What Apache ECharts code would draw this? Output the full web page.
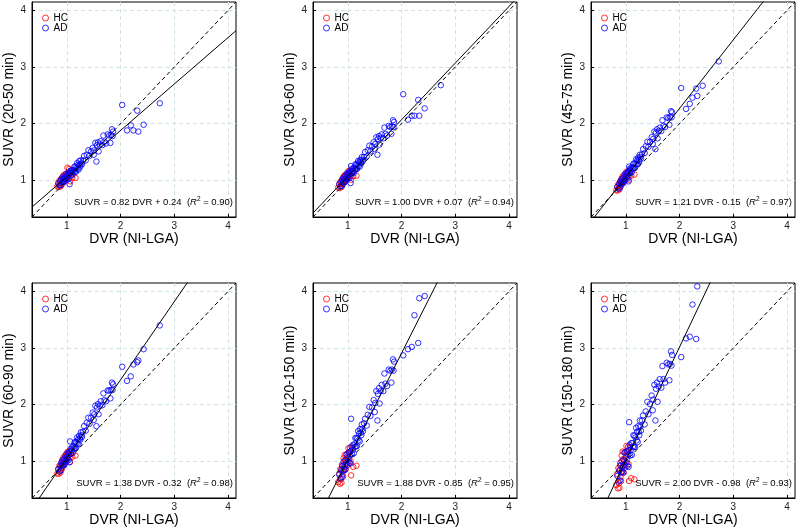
<!DOCTYPE html>
<html>
<head>
<meta charset="utf-8">
<script src="https://cdn.jsdelivr.net/npm/echarts@6/dist/echarts.min.js"></script>
<style>
  html, body { margin: 0; padding: 0; background: #fff; }
  #chart { width: 797px; height: 529px; }
</style>
</head>
<body>
<div id="chart"></div>
<script>
// DVR (NI-LGA), same subjects in every panel
var dvrHC = [0.82, 0.84, 0.85, 0.86, 0.87, 0.88, 0.88, 0.89, 0.90, 0.90, 0.91, 0.92, 0.93, 0.93, 0.94,
    0.95, 0.96, 0.97, 0.98, 0.99, 1.00, 1.01, 1.02, 1.03, 1.04, 1.05, 1.06, 1.08, 1.10, 1.16];
var dvrAD = [0.84, 0.86, 0.88, 0.89, 0.90, 0.91, 0.92, 0.93, 0.94, 0.95, 0.96, 0.97, 0.98, 0.99, 1.00,
    1.01, 1.02, 1.03, 1.04, 1.05, 1.05, 1.06, 1.07, 1.08, 1.09, 1.10, 1.11, 1.12, 1.13, 1.14,
    1.15, 1.16, 1.17, 1.18, 1.19, 1.20, 1.21, 1.22, 1.23, 1.24, 1.25, 1.26, 1.27, 1.28, 1.30,
    1.32, 1.35, 1.37, 1.40, 1.42, 1.45, 1.48, 1.50, 1.51, 1.53, 1.55, 1.56, 1.58, 1.59, 1.61,
    1.63, 1.66, 1.68, 1.70, 1.73, 1.76, 1.79, 1.81, 1.82, 1.84, 1.85, 1.86,
    2.03, 2.12, 2.19, 2.24, 2.31, 2.33, 2.43, 2.73];

// SUVR per time window
var suvr2050HC = [0.89, 0.95, 0.88, 0.99, 0.91, 0.89, 0.98, 1.02, 0.95, 1.01, 0.93, 1.06, 1.00, 0.99, 1.09,
    1.05, 0.99, 1.10, 1.05, 1.03, 1.11, 1.22, 1.07, 1.11, 1.20, 1.05, 0.98, 1.15, 1.04, 1.04];
var suvr2050AD = [0.94, 0.91, 0.99, 0.91, 1.02, 0.97, 1.05, 0.97, 1.02, 0.97, 1.06, 1.03, 1.11, 1.01, 1.08,
    1.04, 1.13, 1.02, 1.10, 0.93, 1.13, 1.16, 1.17, 1.09, 1.13, 1.18, 1.10, 1.18, 1.16, 1.24,
    1.15, 1.24, 1.15, 1.22, 1.30, 1.20, 1.27, 1.19, 1.34, 1.27, 1.24, 1.35, 1.30, 1.28, 1.35,
    1.43, 1.35, 1.45, 1.53, 1.43, 1.51, 1.57, 1.45, 1.53, 1.66, 1.33, 1.62, 1.67, 1.51, 1.63,
    1.69, 1.62, 1.79, 1.68, 1.65, 1.81, 1.79, 1.66, 1.80, 1.90, 1.78, 1.86,
    2.33, 1.88, 1.97, 1.88, 2.23, 1.86, 1.98, 2.36];

var suvr3060HC = [0.87, 0.93, 0.86, 0.97, 0.90, 0.88, 0.97, 1.01, 0.94, 1.00, 0.93, 1.06, 1.00, 0.99, 1.09,
    1.06, 0.99, 1.10, 1.06, 1.04, 1.12, 1.16, 1.08, 1.13, 1.17, 1.07, 1.01, 1.17, 1.07, 1.08];
var suvr3060AD = [0.93, 0.89, 0.98, 0.90, 1.02, 0.97, 1.05, 0.97, 1.02, 0.97, 1.07, 1.03, 1.12, 1.02, 1.09,
    1.06, 1.14, 1.04, 1.12, 0.95, 1.15, 1.25, 1.20, 1.12, 1.16, 1.21, 1.13, 1.22, 1.19, 1.28,
    1.19, 1.28, 1.20, 1.27, 1.34, 1.25, 1.32, 1.24, 1.36, 1.32, 1.30, 1.41, 1.36, 1.34, 1.41,
    1.50, 1.42, 1.53, 1.61, 1.51, 1.60, 1.67, 1.55, 1.64, 1.76, 1.45, 1.73, 1.78, 1.63, 1.75,
    1.81, 1.74, 1.93, 1.82, 1.79, 1.96, 1.94, 1.82, 1.95, 2.06, 1.94, 2.03,
    2.52, 2.07, 2.14, 2.14, 2.42, 2.14, 2.27, 2.68];

var suvr4575HC = [0.82, 0.89, 0.82, 0.93, 0.86, 0.84, 0.93, 0.98, 0.91, 0.97, 0.90, 1.03, 0.98, 0.96, 1.07,
    1.04, 0.97, 1.08, 1.05, 1.03, 1.11, 1.15, 1.07, 1.12, 1.16, 1.07, 1.01, 1.18, 1.08, 1.10];
var suvr4575AD = [0.88, 0.85, 0.94, 0.87, 0.98, 0.94, 1.02, 0.95, 0.99, 0.95, 1.05, 1.01, 1.11, 1.00, 1.08,
    1.05, 1.13, 1.03, 1.12, 0.98, 1.15, 1.24, 1.20, 1.12, 1.17, 1.22, 1.14, 1.23, 1.21, 1.29,
    1.21, 1.30, 1.22, 1.29, 1.37, 1.28, 1.35, 1.28, 1.40, 1.36, 1.34, 1.45, 1.41, 1.38, 1.46,
    1.55, 1.48, 1.60, 1.68, 1.59, 1.68, 1.76, 1.64, 1.73, 1.86, 1.55, 1.84, 1.90, 1.74, 1.87,
    1.93, 1.87, 2.06, 1.96, 1.94, 2.11, 2.10, 1.98, 2.12, 2.22, 2.11, 2.20,
    2.63, 2.26, 2.35, 2.46, 2.62, 2.49, 2.67, 3.10];

var suvr6090HC = [0.78, 0.86, 0.78, 0.92, 0.83, 0.80, 0.91, 0.97, 0.89, 0.96, 0.87, 1.03, 0.96, 0.95, 1.07,
    1.03, 0.96, 1.09, 1.04, 1.02, 1.11, 1.16, 1.08, 1.13, 1.18, 1.07, 0.99, 1.19, 1.08, 1.10];
var suvr6090AD = [0.86, 0.82, 0.92, 0.84, 0.98, 0.92, 1.02, 0.93, 0.98, 0.93, 1.05, 1.01, 1.12, 0.99, 1.08,
    1.04, 1.15, 1.02, 1.13, 0.98, 1.17, 1.35, 1.22, 1.13, 1.18, 1.25, 1.15, 1.26, 1.23, 1.33,
    1.23, 1.34, 1.24, 1.33, 1.42, 1.31, 1.39, 1.30, 1.45, 1.40, 1.38, 1.51, 1.46, 1.43, 1.52,
    1.62, 1.54, 1.68, 1.77, 1.66, 1.77, 1.86, 1.73, 1.83, 1.98, 1.62, 1.95, 2.01, 1.83, 1.98,
    2.06, 1.99, 2.20, 2.08, 2.06, 2.25, 2.25, 2.11, 2.26, 2.39, 2.26, 2.36,
    2.67, 2.42, 2.50, 2.71, 2.75, 2.78, 2.98, 3.40];

var suvr120150HC = [0.63, 0.78, 0.60, 0.86, 0.68, 0.62, 0.84, 0.94, 0.77, 0.91, 0.73, 1.05, 0.90, 0.86, 1.11,
    1.02, 0.86, 1.12, 1.02, 0.96, 1.14, 1.23, 1.04, 1.15, 1.24, 1.00, 0.75, 1.23, 0.90, 0.92];
var suvr120150AD = [0.76, 0.70, 0.85, 0.72, 0.92, 0.83, 0.99, 0.84, 0.93, 0.85, 1.02, 0.96, 1.12, 0.93, 1.07,
    1.00, 1.16, 0.97, 1.12, 0.96, 1.18, 1.75, 1.26, 1.12, 1.20, 1.29, 1.14, 1.30, 1.26, 1.41,
    1.26, 1.41, 1.27, 1.40, 1.53, 1.37, 1.49, 1.35, 1.57, 1.50, 1.46, 1.65, 1.57, 1.53, 1.67,
    1.75, 1.63, 1.82, 1.96, 1.80, 1.95, 2.08, 1.87, 2.03, 2.24, 1.72, 2.19, 2.29, 2.02, 2.24,
    2.35, 2.24, 2.55, 2.37, 2.33, 2.62, 2.60, 2.39, 2.62, 2.80, 2.60, 2.76,
    2.87, 2.98, 3.02, 3.58, 3.09, 3.88, 3.92, 4.40];

var suvr150180HC = [0.58, 0.77, 0.52, 0.88, 0.61, 0.53, 0.83, 0.97, 0.72, 0.92, 0.65, 1.10, 0.88, 0.83, 1.17,
    1.04, 0.80, 1.16, 1.01, 0.93, 1.17, 1.27, 1.03, 1.17, 1.25, 0.95, 0.65, 1.25, 0.70, 0.68];
var suvr150180AD = [0.74, 0.64, 0.84, 0.66, 0.93, 0.80, 1.00, 0.81, 0.91, 0.80, 1.02, 0.94, 1.15, 0.89, 1.07,
    0.98, 1.18, 0.92, 1.12, 0.90, 1.19, 1.69, 1.29, 1.10, 1.20, 1.32, 1.11, 1.32, 1.26, 1.46,
    1.25, 1.45, 1.25, 1.42, 1.59, 1.37, 1.52, 1.34, 1.62, 1.52, 1.46, 1.72, 1.61, 1.54, 1.72,
    1.81, 1.65, 1.88, 2.05, 1.83, 2.01, 2.16, 1.90, 2.09, 2.35, 1.72, 2.28, 2.39, 2.05, 2.32,
    2.45, 2.30, 2.68, 2.45, 2.39, 2.74, 2.71, 2.43, 2.72, 2.94, 2.69, 2.88,
    2.84, 3.17, 3.20, 3.77, 3.16, 4.09, 4.45, 4.80];

var yTitles = ['SUVR (20-50 min)', 'SUVR (30-60 min)', 'SUVR (45-75 min)',
    'SUVR (60-90 min)', 'SUVR (120-150 min)', 'SUVR (150-180 min)'];
var hcSets = [suvr2050HC, suvr3060HC, suvr4575HC, suvr6090HC, suvr120150HC, suvr150180HC];
var adSets = [suvr2050AD, suvr3060AD, suvr4575AD, suvr6090AD, suvr120150AD, suvr150180AD];
var slopes = [0.82, 1.00, 1.21, 1.38, 1.88, 2.00];
var intercepts = [0.24, 0.07, -0.15, -0.32, -0.85, -0.98];
var rSquared = ['0.90', '0.94', '0.97', '0.98', '0.95', '0.93'];

var AXIS_MIN = 0.35, AXIS_MAX = 4.15;
var FONT = '"Liberation Sans", Arial, Helvetica, sans-serif';
var RED = '#ff0000', BLUE = '#0000ff';

var colLeft = [32, 313, 591];
var rowTop = [2, 283];
var boxW = 204, boxH = 215;

function pairs(xs, ys) {
    var out = [];
    for (var i = 0; i < xs.length; i++) out.push([xs[i], ys[i]]);
    return out;
}

function makeAxis(p, name, nameGap, labelMargin) {
    return {
        gridIndex: p, type: 'value', min: AXIS_MIN, max: AXIS_MAX,
        name: name, nameLocation: 'middle', nameGap: nameGap,
        nameTextStyle: { fontFamily: FONT, fontSize: 14, color: '#000' },
        axisLine: { show: true, lineStyle: { color: '#000', width: 1 } },
        axisTick: { show: true, inside: true, length: 3, lineStyle: { color: '#000' } },
        axisLabel: { fontFamily: FONT, fontSize: 10, color: '#222', margin: labelMargin,
            showMinLabel: false, showMaxLabel: false },
        splitLine: { show: true, showMinLine: false, showMaxLine: false,
            lineStyle: { color: '#cfe3e6', type: [4, 3], width: 1 } }
    };
}

var grids = [], xAxes = [], yAxes = [], legends = [], seriesList = [], texts = [];

for (var p = 0; p < 6; p++) {
    var gLeft = colLeft[p % 3], gTop = rowTop[Math.floor(p / 3)];
    var a = slopes[p], b = intercepts[p];

    grids.push({
        left: gLeft, top: gTop, width: boxW, height: boxH,
        show: true, borderColor: '#000', borderWidth: 1
    });
    xAxes.push(makeAxis(p, 'DVR (NI-LGA)', 14, 4));
    yAxes.push(makeAxis(p, yTitles[p], 16, 6));

    legends.push({
        orient: 'vertical', left: gLeft + 5, top: gTop + 6,
        itemWidth: 6, itemHeight: 6, itemGap: 0,
        textStyle: { fontFamily: FONT, fontSize: 10, color: '#000' },
        data: [
            { name: 'HC', icon: 'circle', itemStyle: { color: 'transparent', borderColor: RED, borderWidth: 1 } },
            { name: 'AD', icon: 'circle', itemStyle: { color: 'transparent', borderColor: BLUE, borderWidth: 1 } }
        ]
    });

    seriesList.push({
        name: 'HC', type: 'scatter', xAxisIndex: p, yAxisIndex: p,
        symbol: 'circle', symbolSize: 5.5,
        itemStyle: { color: 'transparent', borderColor: RED, borderWidth: 1 },
        data: pairs(dvrHC, hcSets[p]), z: 2
    });
    seriesList.push({
        name: 'AD', type: 'scatter', xAxisIndex: p, yAxisIndex: p,
        symbol: 'circle', symbolSize: 5.5,
        itemStyle: { color: 'transparent', borderColor: BLUE, borderWidth: 1 },
        data: pairs(dvrAD, adSets[p]), z: 3
    });
    // line of identity
    seriesList.push({
        name: 'identity', type: 'line', xAxisIndex: p, yAxisIndex: p,
        symbol: 'none', silent: true, clip: true, z: 4,
        lineStyle: { color: '#000', width: 1, type: [4, 3] },
        data: [[AXIS_MIN, AXIS_MIN], [AXIS_MAX, AXIS_MAX]]
    });
    // fitted regression line
    seriesList.push({
        name: 'fit', type: 'line', xAxisIndex: p, yAxisIndex: p,
        symbol: 'none', silent: true, clip: true, z: 4,
        lineStyle: { color: '#000', width: 1 },
        data: [[AXIS_MIN, a * AXIS_MIN + b], [AXIS_MAX, a * AXIS_MAX + b]]
    });

    var eq = 'SUVR = ' + a.toFixed(2) + ' DVR ' + (b < 0 ? '- ' : '+ ') + Math.abs(b).toFixed(2) +
        '  ({i|R}{s|2} = ' + rSquared[p] + ')';
    texts.push({
        type: 'text', x: gLeft + boxW - 3, y: gTop + boxH - 15, z: 10,
        style: {
            text: eq, fill: '#000', fontFamily: FONT, fontSize: 9.5,
            align: 'right', verticalAlign: 'middle',
            rich: {
                i: { fontStyle: 'italic', fontFamily: FONT, fontSize: 9.5 },
                s: { fontSize: 6.5, fontFamily: FONT, verticalAlign: 'top', padding: [0, 0, 5, 0] }
            }
        }
    });
}

var chart = echarts.init(document.getElementById('chart'));
chart.setOption({
    backgroundColor: '#fff',
    animation: false,
    grid: grids,
    xAxis: xAxes,
    yAxis: yAxes,
    legend: legends,
    series: seriesList,
    graphic: texts
});
window.addEventListener('resize', function () { chart.resize(); });
</script>
</body>
</html>
